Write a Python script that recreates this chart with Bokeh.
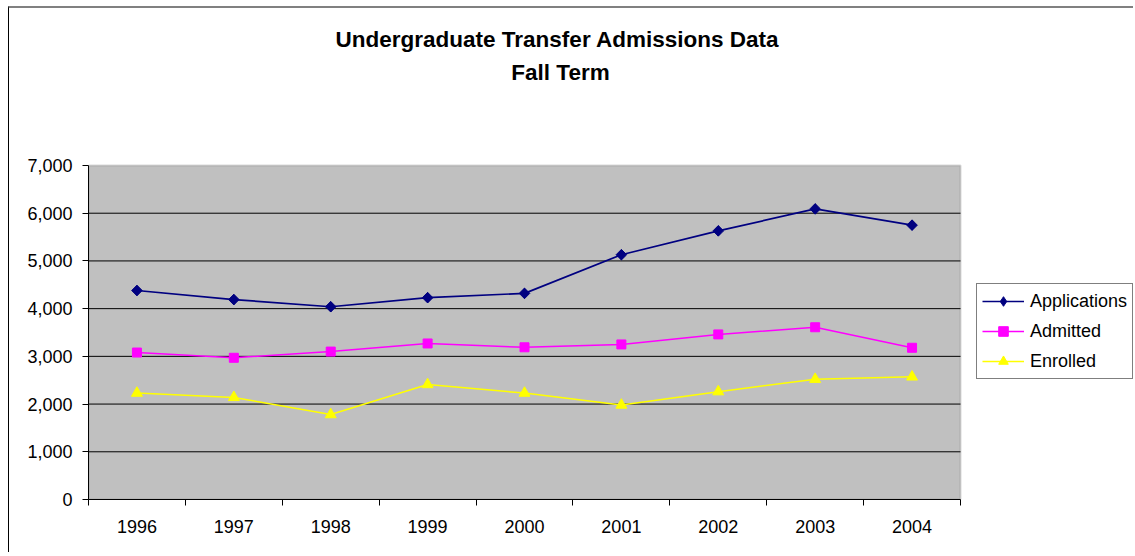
from bokeh.plotting import figure
from bokeh.models import (Range1d, FixedTicker, NumeralTickFormatter, Legend, LegendItem,
                          Label, BoxAnnotation)
from bokeh.embed import file_html
from bokeh.resources import INLINE

years = ["1996", "1997", "1998", "1999", "2000", "2001", "2002", "2003", "2004"]
applications = [4380, 4190, 4040, 4230, 4320, 5130, 5630, 6090, 5750]
admitted = [3080, 2970, 3100, 3270, 3190, 3250, 3460, 3610, 3180]
enrolled = [2230, 2140, 1780, 2410, 2230, 1980, 2260, 2520, 2570]
y_ticks = [0, 1000, 2000, 3000, 4000, 5000, 6000, 7000]
title_lines = ["Undergraduate Transfer Admissions Data", "Fall Term"]

FONT = "Liberation Sans"
x = list(range(len(years)))
x_lo, x_hi = -0.5, len(years) - 0.5
y_lo, y_hi = y_ticks[0], y_ticks[-1]

# canvas 1125 x 546; plotting area (gray) 872 x 334 px, starting 79 px from left, 157 px from top
W, H = 1125, 546
LEFT, TOP, PW, PH, BOTTOM = 79, 157, 872, 334, 55
x_end = x_hi + (W - LEFT - PW) * (x_hi - x_lo) / PW
y_end = y_hi + TOP * (y_hi - y_lo) / PH

p = figure(width=W, height=H, output_backend="svg", toolbar_location=None,
           x_range=Range1d(x_lo, x_end), y_range=Range1d(y_lo, y_end),
           min_border_left=LEFT, min_border_right=0, min_border_top=0, min_border_bottom=BOTTOM)
p.styles = {"margin-left": "8px", "margin-top": "6px",
            "border-top": "2px solid #808080", "border-left": "1px solid black"}

p.background_fill_color = "white"
p.border_fill_color = "white"
p.outline_line_color = None
p.xgrid.visible = False
p.ygrid.visible = False

# gray plotting area
p.add_layout(BoxAnnotation(left=x_lo, right=x_hi, bottom=y_lo, top=y_hi,
                           fill_color="#C0C0C0", fill_alpha=1,
                           line_color="#808080", line_width=2, level="underlay"))
# horizontal gridlines
inner = y_ticks[1:-1]
p.segment(x0=[x_lo] * len(inner), x1=[x_hi] * len(inner), y0=inner, y1=inner,
          line_color="black", line_width=1)

# y axis
p.yaxis.bounds = (y_lo, y_hi)
p.yaxis.ticker = FixedTicker(ticks=y_ticks)
p.yaxis.formatter = NumeralTickFormatter(format="0,0")
p.yaxis.major_tick_out = 6
p.yaxis.major_tick_in = 0
p.yaxis.minor_tick_out = 0
p.yaxis.minor_tick_in = 0
p.yaxis.major_label_standoff = 10
p.yaxis.axis_line_color = "black"
p.yaxis.major_tick_line_color = "black"
p.yaxis.major_label_text_font = FONT
p.yaxis.major_label_text_font_size = "18px"
p.yaxis.major_label_text_color = "black"

# x axis (ticks between categories)
p.xaxis.bounds = (x_lo, x_hi)
p.xaxis.ticker = FixedTicker(ticks=x, minor_ticks=[i - 0.5 for i in range(len(years) + 1)])
p.xaxis.major_label_overrides = {i: years[i] for i in x}
p.xaxis.major_tick_out = 0
p.xaxis.major_tick_in = 0
p.xaxis.minor_tick_out = 6
p.xaxis.minor_tick_in = 0
p.xaxis.minor_tick_line_color = "black"
p.xaxis.axis_line_color = "black"
p.xaxis.major_label_standoff = 14
p.xaxis.major_label_text_font = FONT
p.xaxis.major_label_text_font_size = "18px"
p.xaxis.major_label_text_color = "black"

items = []

# Applications: diamond for the legend, drawn beneath a slightly larger rotated square
ln = p.line(x, applications, line_color="#000080", line_width=1.7)
dm = p.scatter(x, applications, marker="diamond", size=10,
               fill_color="#000080", line_color="#000080", line_width=1)
p.scatter(x, applications, marker="square", size=7.5, angle=0.785398,
          fill_color="#000080", line_color="#000080", line_width=1)
items.append(LegendItem(label="Applications", renderers=[ln, dm]))

ln = p.line(x, admitted, line_color="#FF00FF", line_width=1.5)
sc = p.scatter(x, admitted, marker="square", size=9,
               fill_color="#FF00FF", line_color="#FF00FF", line_width=1)
items.append(LegendItem(label="Admitted", renderers=[ln, sc]))

ln = p.line(x, enrolled, line_color="#FFFF00", line_width=1.5)
sc = p.scatter(x, enrolled, marker="triangle", size=11,
               fill_color="#FFFF00", line_color="#FFFF00", line_width=1)
items.append(LegendItem(label="Enrolled", renderers=[ln, sc]))

legend = Legend(items=items, location=(888, 120), orientation="vertical",
                label_text_font=FONT, label_text_font_size="18px", label_text_color="black",
                glyph_width=42, glyph_height=24, label_height=24, label_standoff=6,
                padding=5, spacing=6, margin=0,
                border_line_color="black", border_line_width=1,
                background_fill_color="white", background_fill_alpha=1)
p.add_layout(legend)

frame_h = H - BOTTOM
for txt, base, cx in zip(title_lines, [31, 64], [469, 472]):
    p.add_layout(Label(x=cx, y=frame_h - base, x_units="screen", y_units="screen", text=txt,
                       text_align="center", text_baseline="alphabetic",
                       text_font=FONT, text_font_style="bold", text_font_size="22.5px",
                       text_color="black"))

open("out.html", "w").write(file_html(p, INLINE))
